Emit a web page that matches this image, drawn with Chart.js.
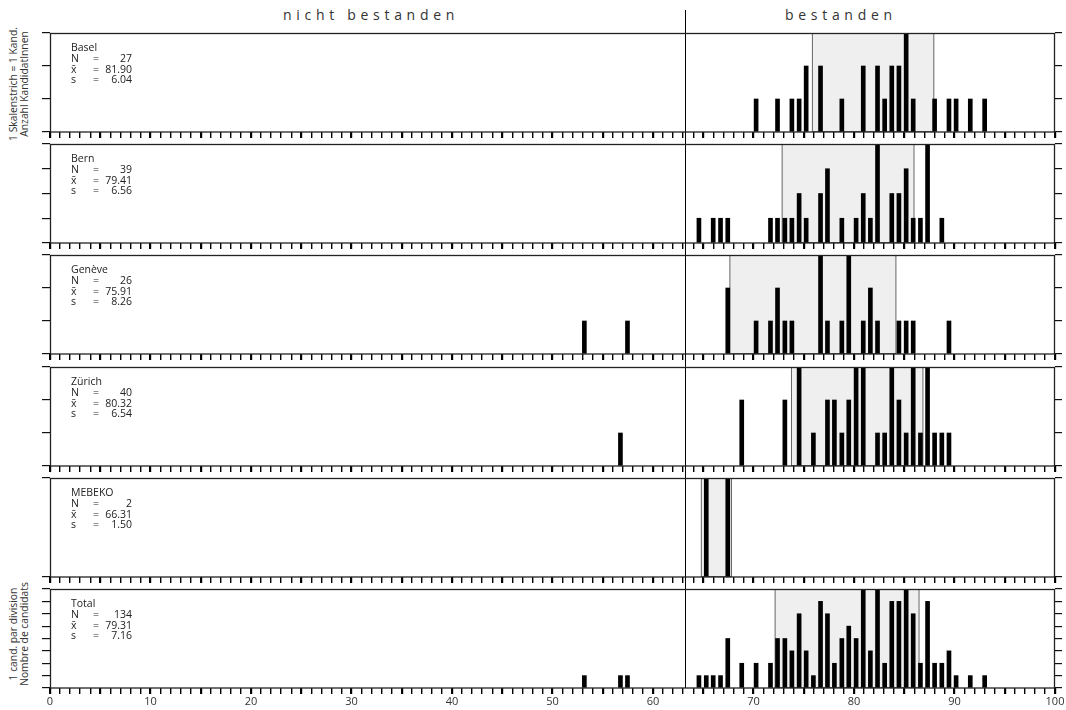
<!DOCTYPE html>
<html><head><meta charset="utf-8">
<script src="https://cdn.jsdelivr.net/npm/chart.js@4.4.1/dist/chart.umd.min.js"></script>
<style>
html,body{margin:0;padding:0;background:#fff;}
#wrap{position:relative;width:1066px;height:710px;overflow:hidden;font-family:"Open Sans",sans-serif;color:#333;}
canvas{position:absolute;left:0;}
.title{position:absolute;top:5px;font-size:14px;letter-spacing:4.7px;line-height:20px;white-space:nowrap;color:#333;}
.side{position:absolute;font-size:10.3px;line-height:10.5px;text-align:center;white-space:nowrap;color:#333;transform:translate(-50%,-50%) rotate(-90deg);}
</style></head><body><div id="wrap">
<div class="title" style="left:283px">nicht bestanden</div>
<div class="title" style="left:785px">bestanden</div>
<div class="side" style="left:18px;top:84px">1 Skalenstrich = 1 Kand.<br>Anzahl KandidatInnen</div>
<div class="side" style="left:18px;top:634px">1 cand. par division<br>Nombre de candidats</div>
</div>
<script>
// ---- data ----
const panelNames = ['Basel','Bern','Genève','Zürich','MEBEKO','Total'];
const panelN = [27,39,26,40,2,134];
const panelMean = [81.90,79.41,75.91,80.32,66.31,79.31];
const panelSD = [6.04,6.56,8.26,6.54,1.50,7.16];
const panelYMax = [3,4,3,3,1,8];
const passMark = 63.2;

const baselScores = [70.26,72.39,73.82,74.54,75.24,76.67,78.79,80.92,82.34,83.05,83.76,84.47,85.19,85.89,88.02,89.45,90.16,91.57,93.00];
const baselCounts = [1,1,1,1,2,2,1,2,2,1,2,2,3,1,1,1,1,1,1];

const bernScores = [64.57,65.99,66.72,67.44,71.69,72.39,73.12,73.82,74.54,75.24,76.67,77.36,78.79,80.21,80.92,81.63,82.34,83.76,84.47,85.19,85.89,86.61,87.32,88.74];
const bernCounts = [1,1,1,1,1,1,1,1,2,1,2,3,1,1,2,1,4,2,2,3,1,1,4,1];

const geneveScores = [53.17,57.46,67.44,70.26,71.69,72.39,73.12,73.82,76.67,77.36,78.79,79.48,80.92,81.63,82.34,84.47,85.19,85.89,89.45];
const geneveCounts = [1,1,2,1,1,2,1,1,3,1,1,3,1,2,1,1,1,1,1];

const zurichScores = [56.76,68.83,73.12,74.54,75.96,77.36,78.05,78.79,79.48,80.21,80.92,82.34,83.05,83.76,84.47,85.19,85.89,86.61,87.32,88.02,88.74,89.45];
const zurichCounts = [1,2,2,3,1,2,2,1,2,3,3,1,1,3,2,1,3,1,3,1,1,1];

const mebekoScores = [65.30,67.44];
const mebekoCounts = [1,1];

const totalScores = [53.17,56.76,57.46,64.57,65.30,65.99,66.72,67.44,68.83,70.26,71.69,72.39,73.12,73.82,74.54,75.24,75.96,76.67,77.36,78.05,78.79,79.48,80.21,80.92,81.63,82.34,83.05,83.76,84.47,85.19,85.89,86.61,87.32,88.02,88.74,89.45,90.16,91.57,93.00];
const totalCounts = [1,1,1,1,1,1,1,4,2,2,2,4,4,3,6,3,1,7,6,2,4,5,4,8,3,8,2,7,7,8,6,2,7,2,2,3,1,1,1];

const xTickLabels = [0,10,20,30,40,50,60,70,80,90,100];
const xTickValues = Array.from({length:101},(_,k)=>k);

const panelScores = [baselScores,bernScores,geneveScores,zurichScores,mebekoScores,totalScores];
const panelCounts = [baselCounts,bernCounts,geneveCounts,zurichCounts,mebekoCounts,totalCounts];

// ---- layout ----
const T = [33,144,255,367,478,589];
const H = 99;
const FONT = '"Open Sans", sans-serif';

const deco = {
  id:'panelDeco',
  beforeDatasetsDraw(chart,args,o){
    const {ctx, chartArea:a, scales:{x}} = chart;
    const x1 = x.getPixelForValue(o.mean - o.sd), x2 = x.getPixelForValue(o.mean + o.sd);
    ctx.save();
    ctx.fillStyle = '#efefef';
    ctx.fillRect(x1, a.top, x2-x1, a.bottom-a.top);
    ctx.strokeStyle = '#666'; ctx.lineWidth = 1;
    ctx.strokeRect(x1, a.top+0.5, x2-x1, a.bottom-a.top-1);
    ctx.restore();
  },
  afterDatasetsDraw(chart,args,o){
    const {ctx, chartArea:a, scales:{x}} = chart;
    ctx.save();
    const px = Math.round(x.getPixelForValue(o.pass)) + 0.5;
    ctx.strokeStyle = '#000'; ctx.lineWidth = 1;
    ctx.beginPath(); ctx.moveTo(px, 0); ctx.lineTo(px, a.bottom); ctx.stroke();
    ctx.strokeStyle = '#222'; ctx.lineWidth = 1.3;
    ctx.strokeRect(a.left+0.5, a.top+0.5, a.right-a.left-1, a.bottom-a.top-0.5);
    ctx.fillStyle = '#222';
    ctx.font = '10.5px ' + FONT;
    ctx.textBaseline = 'middle';
    const lx = a.left + 21, ex = a.left + 43, vx = a.left + 82;
    const y0 = a.top + 15, dy = 10.8;
    ctx.textAlign = 'left';
    ctx.fillText(o.name, lx, y0);
    const rows = [['N', String(o.n)], ['x\u0304', o.mean.toFixed(2)], ['s', o.sd.toFixed(2)]];
    rows.forEach((r,k)=>{
      const yy = y0 + dy*(k+1);
      ctx.textAlign = 'left';
      ctx.fillText(r[0], lx, yy);
      ctx.fillText('=', ex, yy);
      ctx.textAlign = 'right';
      ctx.fillText(r[1], vx, yy);
    });
    ctx.restore();
  }
};

const wrap = document.getElementById('wrap');
panelNames.forEach((name,i)=>{
  const isBottom = i === panelNames.length-1;
  const padTop = i === 0 ? 23 : T[i] - (T[i-1] + H);
  const xH = isBottom ? 24 : 8;
  const cv = document.createElement('canvas');
  cv.width = 1066; cv.height = padTop + H + xH;
  cv.style.top = (T[i] - padTop) + 'px';
  wrap.appendChild(cv);
  const ymax = panelYMax[i];
  const yScale = (pos, w, tl) => ({
    position: pos, min: 0, max: ymax,
    afterBuildTicks: s => { const t=[]; for(let v=0; v<=ymax; v++) t.push({value:v}); s.ticks = t; },
    afterFit: s => { s.width = w; },
    grid: {drawOnChartArea:false, drawTicks:true, tickLength:tl, color:'#111', lineWidth:1.2},
    border: {display:false},
    ticks: {display:false, stepSize:1}
  });
  new Chart(cv, {
    type: 'bar',
    data: { datasets: [{
      data: panelScores[i].map((s,k)=>({x:s, y:panelCounts[i][k]})),
      backgroundColor: '#000', borderWidth: 0, barThickness: 4
    }]},
    options: {
      responsive: false, animation: false, devicePixelRatio: 1,
      layout: {padding: {top: padTop, left: 0, right: 0, bottom: 0}},
      plugins: {
        legend: {display:false}, tooltip: {enabled:false},
        panelDeco: {name: name, n: panelN[i], mean: panelMean[i], sd: panelSD[i], pass: passMark}
      },
      scales: {
        x: {
          type: 'linear', min: 0, max: 100, offset: false,
          afterBuildTicks: s => { s.ticks = xTickValues.map(v=>({value:v})); },
          afterFit: s => { s.height = xH; },
          grid: {drawOnChartArea:false, drawTicks:true, tickLength:6, color:'#000', offset:false,
                 lineWidth: c => (c.tick && c.tick.value % 5 === 0) ? 2.2 : 1.4},
          border: {display:false},
          ticks: {display: isBottom, autoSkip:false, maxRotation:0, minRotation:0, padding:1, color:'#333',
                  font: {family: FONT, size: 11},
                  callback: v => xTickLabels.includes(v) ? String(v) : ''}
        },
        y: yScale('left', 50, 8),
        yR: yScale('right', 11, 7)
      }
    },
    plugins: [deco]
  });
});
</script>
</body></html>
